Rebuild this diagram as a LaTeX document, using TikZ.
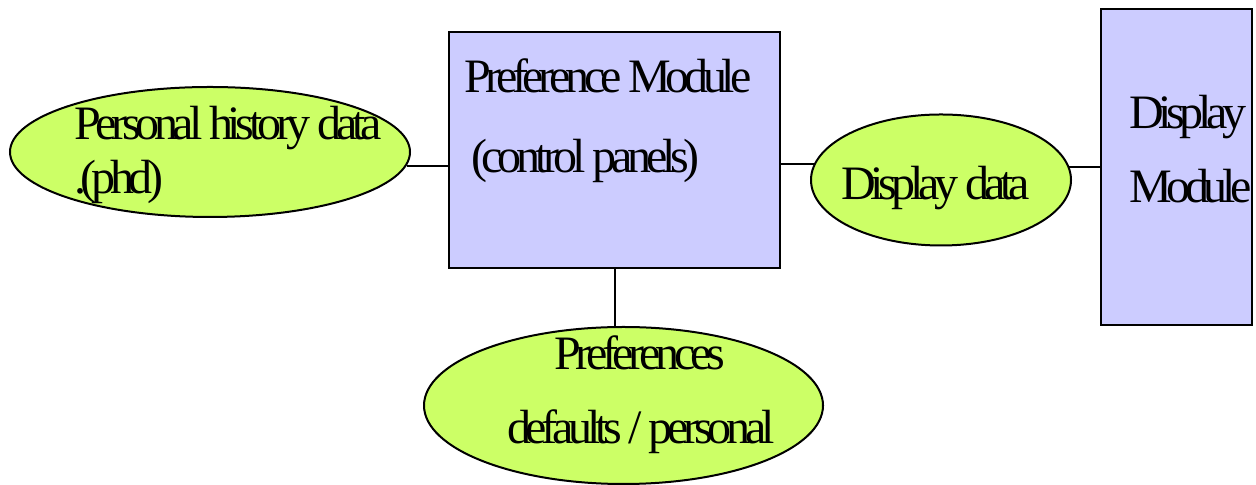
\documentclass[tikz,border=0pt]{standalone}
\usepackage{fontspec}
\setmainfont{Liberation Serif}[LetterSpace=-11]
\usetikzlibrary{shapes.geometric}
\definecolor{datagreen}{RGB}{204,255,102}
\definecolor{modblue}{RGB}{204,204,255}

\begin{document}
\begin{tikzpicture}[x=0.5pt, y=0.5pt, line width=1pt,
    module/.style={draw, fill=modblue, inner sep=0pt},
    data/.style={draw, ellipse, fill=datagreen, inner sep=0pt},
    words/.style={anchor=base west, inner sep=0pt, font=\fontsize{24}{28}\selectfont}]
    \useasboundingbox (0,0) rectangle (1256,485);

    \node [data, minimum width=200pt, minimum height=65pt] (phd) at (210,333) {};
    \node [module, minimum width=165.5pt, minimum height=118pt] (pm) at (614.5,335) {};
    \node [data, minimum width=130pt, minimum height=65.5pt] (dd) at (941,305) {};
    \node [module, minimum width=75.5pt, minimum height=158pt] (dm) at (1176.5,318) {};
    \node [data, minimum width=199.5pt, minimum height=78.5pt] (pref) at (623.5,79.5) {};

    \node [words] (phd1) at (73,345) {Personal history data};
    \node [words] (phd2) at (73,291) {.(phd)};
    \node [words] (pm1) at (463,392) {Preference Module};
    \node [words] (pm2) at (470,312) {(control panels)};
    \node [words] (dd1) at (840,285) {Display data};
    \node [words] (dm1) at (1128,356) {Display};
    \node [words] (dm2) at (1128,282) {Module};
    \node [words] (pref1) at (553,115) {Preferences};
    \node [words] (pref2) at (506,41) {defaults / personal};

    \path (phd.-4.1) edge (phd.-4.1 -| pm.west);
    \path (dd.173.7) edge (dd.173.7 -| pm.east);
    \path (dd.6.3) edge (dd.6.3 -| dm.west);
    \path (pm.south) edge (pm.south |- pref.north);
\end{tikzpicture}
\end{document}
